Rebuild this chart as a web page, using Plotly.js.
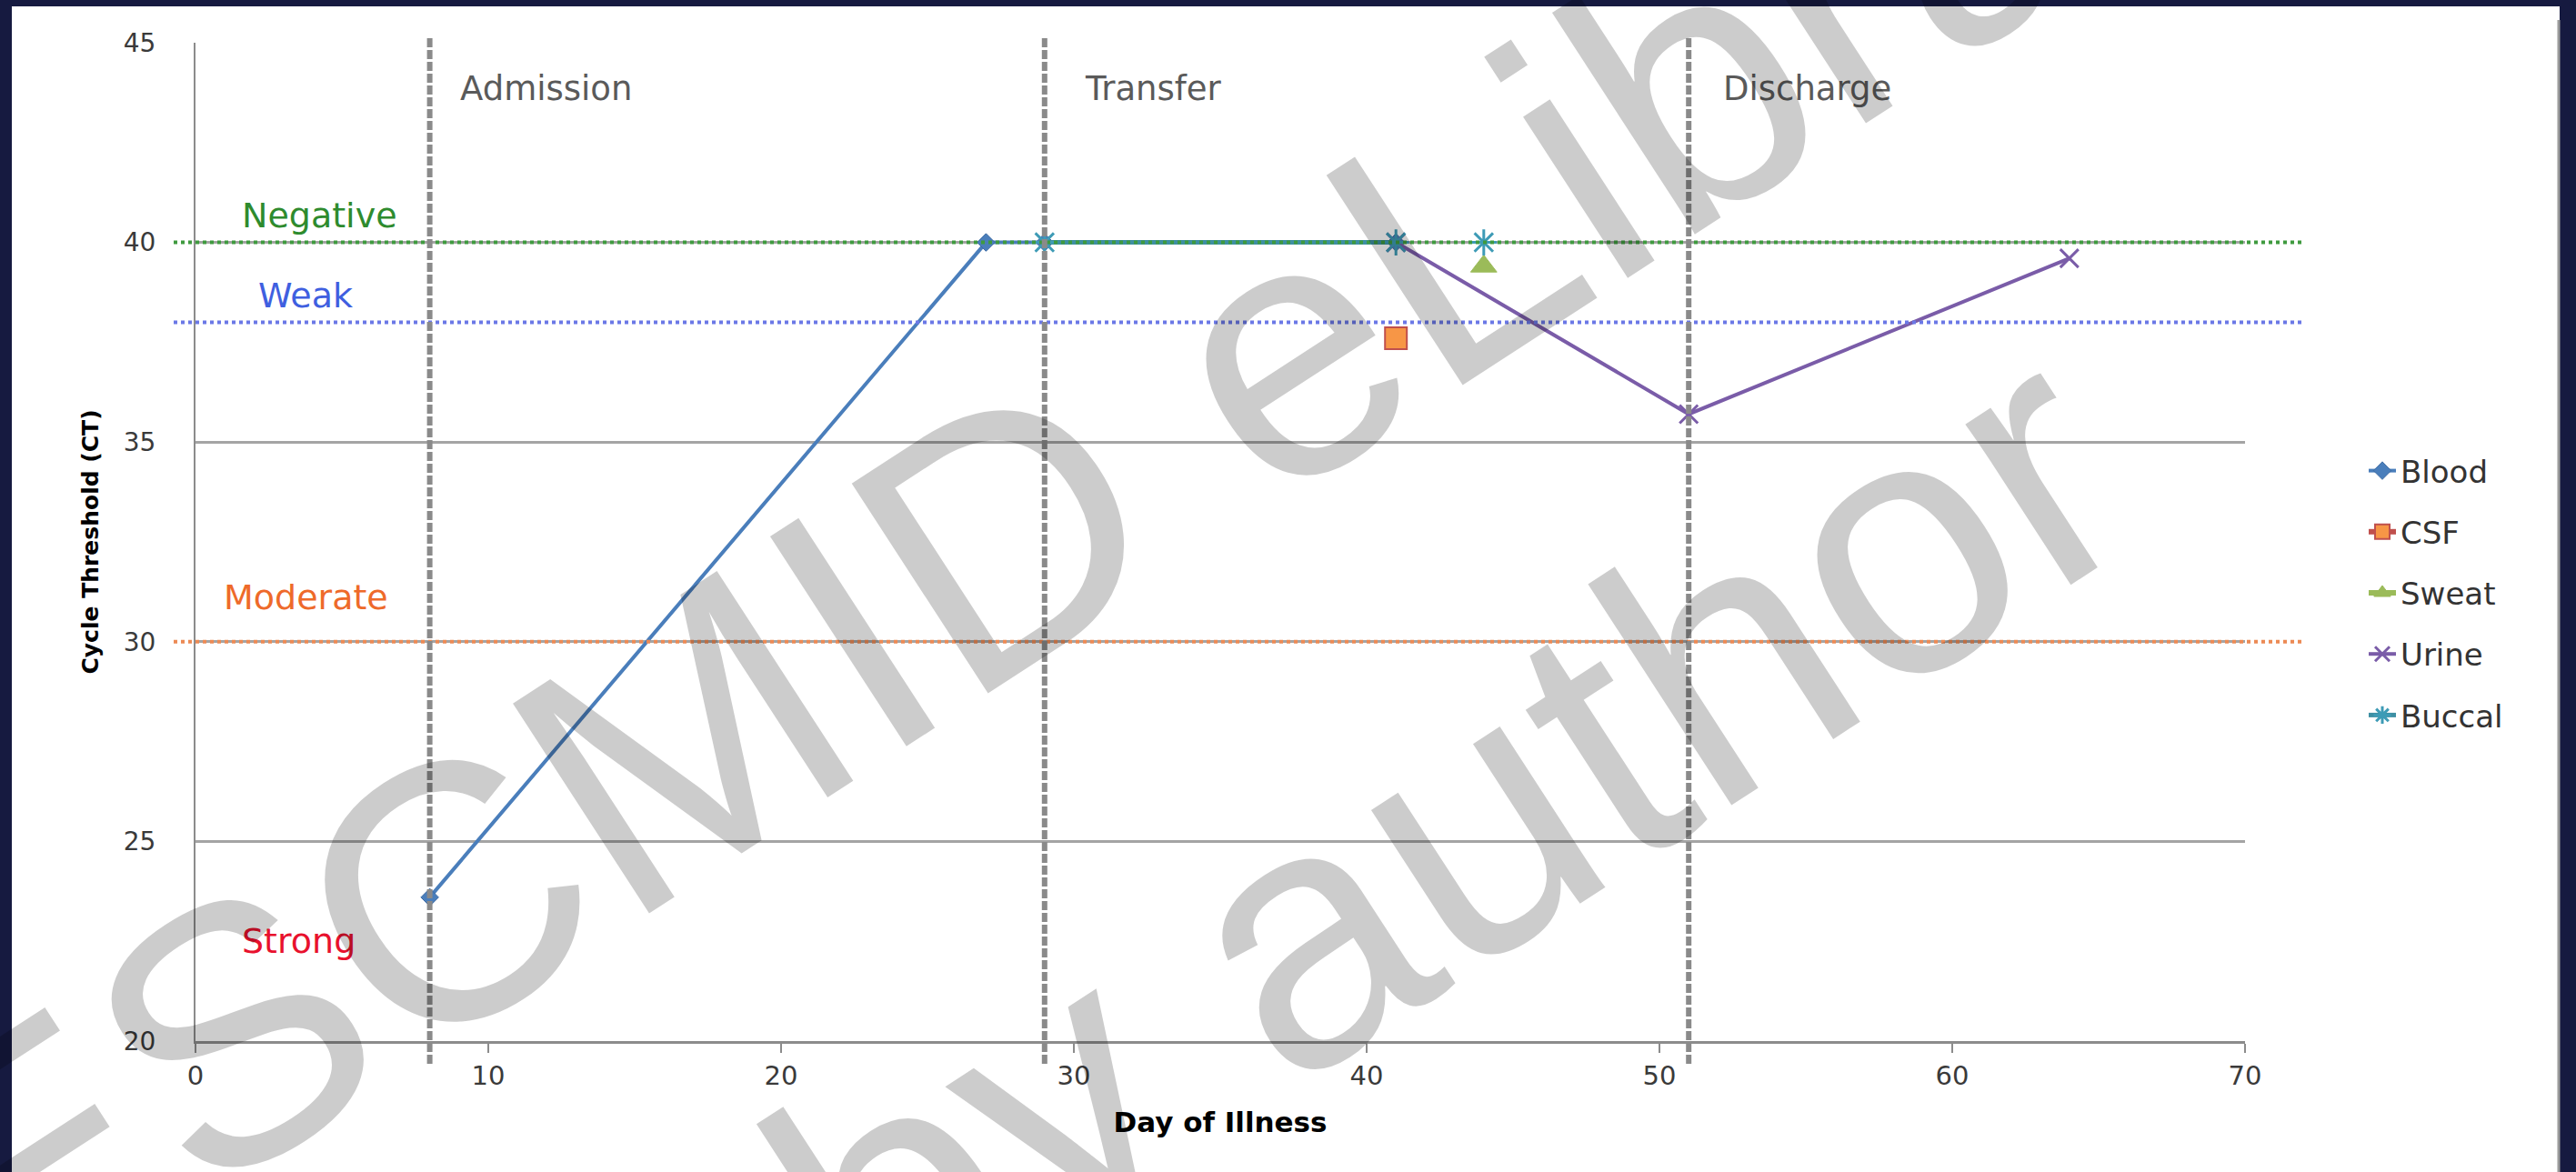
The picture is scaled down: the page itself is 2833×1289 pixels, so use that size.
<!DOCTYPE html>
<html>
<head>
<meta charset="utf-8">
<script src="https://cdn.plot.ly/plotly-3.0.1.min.js"></script>
<style>
html,body{margin:0;padding:0;background:#161a40;overflow:hidden}
#chart{width:2833px;height:1289px}
</style>
</head>
<body>
<div id="chart"></div>
<script>
// ---- data ----
const bloodDays  = [8, 27, 29, 41];
const bloodCT    = [23.6, 40, 40, 40];
const csfDays    = [41];
const csfCT      = [37.6];
const sweatDays  = [44];
const sweatCT    = [39.4];
const urineDays  = [41, 51, 64];
const urineCT    = [40, 35.7, 39.6];
const buccalDays = [29, 41, null, 44];
const buccalCT   = [40, 40, null, 40];

const thresholdNames = ['Negative', 'Weak', 'Moderate'];
const thresholdCT    = [40, 38, 30];
const bandNames      = ['Negative', 'Weak', 'Moderate', 'Strong'];
const phaseNames     = ['Admission', 'Transfer', 'Discharge'];
const phaseDays      = [8, 29, 51];
const xTicks = [0, 10, 20, 30, 40, 50, 60, 70];
const yTicks = [20, 25, 30, 35, 40, 45];
const watermark = ['ESCMID eLibrary', 'by author'];

// ---- styling ----
const X_RANGE = [0, 70], Y_RANGE = [20, 45];
const W = 2833, H = 1289;
const M = {l: 215, r: 364, t: 47, b: 144};
const PW = W - M.l - M.r, PH = H - M.t - M.b;
const px2paperX = p => (p - M.l) / PW;
const px2paperY = p => (H - M.b - p) / PH;
const dayToPaper = d => (d - X_RANGE[0]) / (X_RANGE[1] - X_RANGE[0]);
const ctToPaper = c => (c - Y_RANGE[0]) / (Y_RANGE[1] - Y_RANGE[0]);

const thresholdColors = ['#3f9a3f', '#6b78e6', '#ec8a55'];
const bandColors = ['#2e8b2e', '#3f5fe0', '#ee6a2a', '#e8112d'];
const bandLabelPos = [[4.25, 40.68], [3.76, 38.68], [3.76, 31.1], [3.54, 22.5]];
const phaseLabelDays = [8.98, 30.3, 52.1];

const traces = [
  {name: 'Blood', x: bloodDays, y: bloodCT, mode: 'lines+markers',
   line: {color: '#4a7ebb', width: 4},
   marker: {symbol: 'diamond', size: 15, color: '#4a7ebb', line: {color: '#3d6ba3', width: 1}}},
  {name: 'CSF', x: csfDays, y: csfCT, mode: 'lines+markers',
   line: {color: '#c0504d', width: 6},
   marker: {symbol: 'square', size: 24, color: '#f79646', line: {color: '#c0504d', width: 2}}},
  {name: 'Sweat', x: sweatDays, y: sweatCT, mode: 'lines+markers',
   line: {color: '#9bbb59', width: 6},
   marker: {symbol: 'triangle-up', size: 25, color: '#9bbb59', line: {color: '#9bbb59', width: 1}}},
  {name: 'Urine', x: urineDays, y: urineCT, mode: 'lines+markers',
   line: {color: '#7a5ca8', width: 4},
   marker: {symbol: 'x-thin-open', size: 20, color: '#7a5ca8', line: {color: '#7a5ca8', width: 3}}},
  {name: 'Buccal', x: buccalDays, y: buccalCT, mode: 'lines+markers', connectgaps: false,
   line: {color: '#3e8fa3', width: 5},
   marker: {symbol: 'asterisk-open', size: 24, color: '#3e9bb6', line: {color: '#3e9bb6', width: 3}}}
];
traces.forEach((t, i) => { t.legendgroup = 'g' + i; });

const shapes = [];
// white slide area
shapes.push({type: 'rect', xref: 'paper', yref: 'paper', layer: 'below',
  x0: px2paperX(13), x1: px2paperX(2815), y0: px2paperY(H + 5), y1: px2paperY(7),
  fillcolor: '#ffffff', line: {width: 0}});
// right shadow edge
shapes.push({type: 'line', xref: 'paper', yref: 'paper',
  x0: px2paperX(2814), x1: px2paperX(2814), y0: px2paperY(H), y1: px2paperY(22),
  line: {color: '#9a9a9a', width: 3}});
// threshold dotted lines
thresholdCT.forEach((c, i) => {
  shapes.push({type: 'line', xref: 'paper', yref: 'paper', layer: 'above',
    x0: px2paperX(191), x1: px2paperX(2531), y0: ctToPaper(c), y1: ctToPaper(c),
    line: {color: thresholdColors[i], width: 4, dash: 'dot'}});
});
// phase dashed lines
phaseDays.forEach(d => {
  shapes.push({type: 'line', xref: 'paper', yref: 'paper', layer: 'above',
    x0: dayToPaper(d), x1: dayToPaper(d), y0: px2paperY(1170), y1: px2paperY(40),
    line: {color: '#8a8a8a', width: 6, dash: '10px,3px'}});
});

const annotations = [];
phaseNames.forEach((n, i) => {
  annotations.push({text: n, xref: 'x', yref: 'y', x: phaseLabelDays[i], y: 43.86,
    xanchor: 'left', yanchor: 'middle', showarrow: false,
    font: {family: 'DejaVu Sans', size: 37, color: '#5a5a5a'}});
});
bandNames.forEach((n, i) => {
  annotations.push({text: n, xref: 'x', yref: 'y', x: bandLabelPos[i][0], y: bandLabelPos[i][1],
    xanchor: 'center', yanchor: 'middle', showarrow: false,
    font: {family: 'DejaVu Sans', size: 38, color: bandColors[i]}});
});
// watermark
const wmPos = [[1227, 508], [1592, 925]];
watermark.forEach((t, i) => {
  annotations.push({text: t, xref: 'paper', yref: 'paper',
    x: px2paperX(wmPos[i][0]), y: px2paperY(wmPos[i][1]),
    xanchor: 'center', yanchor: 'middle', showarrow: false, textangle: -33,
    font: {family: 'Liberation Sans', size: 400, color: 'rgba(0,0,0,0.2)'}});
});

const layout = {
  width: W, height: H,
  margin: M,
  paper_bgcolor: '#161a40',
  plot_bgcolor: '#ffffff',
  font: {family: 'DejaVu Sans', color: '#333333'},
  showlegend: true,
  legend: {x: px2paperX(2600), y: px2paperY(652), xanchor: 'left', yanchor: 'middle',
    font: {family: 'DejaVu Sans', size: 34, color: '#333333'},
    bgcolor: 'rgba(0,0,0,0)', traceorder: 'grouped', tracegroupgap: 20},
  xaxis: {range: X_RANGE, tickvals: xTicks, ticktext: xTicks.map(String),
    showgrid: false, zeroline: false, showline: true, linecolor: '#8c8c8c', linewidth: 3,
    ticks: 'outside', ticklen: 10, tickwidth: 2, tickcolor: '#8c8c8c',
    tickfont: {family: 'DejaVu Sans', size: 29, color: '#3a3a3a'},
    title: {text: 'Day of Illness', standoff: 25,
      font: {family: 'DejaVu Sans', size: 31, color: '#000000', weight: 'bold'}}},
  yaxis: {range: Y_RANGE, tickvals: yTicks, ticktext: yTicks.map(String),
    showgrid: true, gridcolor: '#a4a4a4', gridwidth: 3, zeroline: false,
    showline: true, linecolor: '#8c8c8c', linewidth: 2, ticks: '',
    ticklabelstandoff: 36,
    tickfont: {family: 'DejaVu Sans', size: 28, color: '#3a3a3a'},
    title: {text: 'Cycle Threshold (CT)', standoff: 20,
      font: {family: 'DejaVu Sans', size: 25, color: '#000000', weight: 'bold'}}},
  shapes: shapes,
  annotations: annotations
};

Plotly.newPlot('chart', traces, layout, {displayModeBar: false, staticPlot: true});
</script>
</body>
</html>
